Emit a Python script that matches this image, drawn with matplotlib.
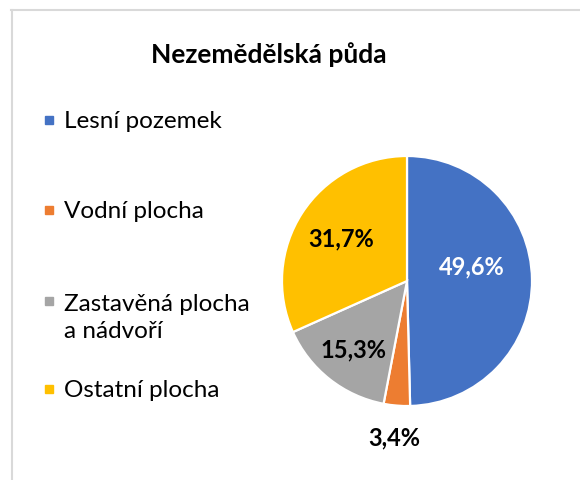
import numpy as np
import matplotlib
matplotlib.use("Agg")
import matplotlib.pyplot as plt
from matplotlib.lines import Line2D
from matplotlib.patches import Rectangle

title = "Nezemědělská půda"
categories = ["Lesní pozemek", "Vodní plocha", "Zastavěná plocha\na nádvoří", "Ostatní plocha"]
shares = [49.6, 3.4, 15.3, 31.7]
colors = ["#4472C4", "#ED7D31", "#A5A5A5", "#FFC000"]
label_colors = ["white", "black", "black", "black"]
label_dist = [0.52, 1.25, 0.69, 0.63]
label_shift = [(0, 14), (0, 0), (0, 0), (0, 0)]  # pixel nudges

plt.rcParams["font.family"] = ["Lato", "DejaVu Sans"]

W, H = 580, 481
fig = plt.figure(figsize=(W / 100, H / 100), dpi=100)

# chart-area border (only top and left visible in the crop)
fig.add_artist(Line2D([11 / W, 1], [1 - 11 / H] * 2, color="#d9d9d9", lw=1.5))
fig.add_artist(Line2D([11.5 / W] * 2, [0, 1 - 11 / H], color="#d9d9d9", lw=1.5))

fig.text(269 / W, 1 - 55 / H, title, ha="center", va="center",
         fontsize=19, fontweight="bold")

# pie
cx, cy, r = 407, 282, 125
ax = fig.add_axes([(cx - r) / W, 1 - (cy + r) / H, 2 * r / W, 2 * r / H])
wedges, _ = ax.pie(shares, colors=colors, startangle=90, counterclock=False,
                   wedgeprops=dict(edgecolor="white", linewidth=1.6))
ax.set_xlim(-1, 1)
ax.set_ylim(-1, 1)
ax.set_aspect("equal")

for w, v, d, c, (dx, dy) in zip(wedges, shares, label_dist, label_colors, label_shift):
    ang = np.deg2rad((w.theta1 + w.theta2) / 2)
    ax.annotate(f"{v:.1f}%".replace(".", ","), (d * np.cos(ang), d * np.sin(ang)),
                xytext=(dx * 0.72, dy * 0.72), textcoords="offset points",
                ha="center", va="center", fontsize=17, fontweight="bold", color=c,
                annotation_clip=False)

# legend drawn by hand so the marker sits on the first line
legend_base = [128, 218, 309, 397]
line_step = 29
for cat, col, y in zip(categories, colors, legend_base):
    fig.add_artist(Rectangle((45 / W, 1 - (y - 3) / H), 8 / W, 8 / H,
                             color=col, transform=fig.transFigure))
    last = y + line_step * cat.count("\n")  # baseline alignment uses the last line
    fig.text(64 / W, 1 - last / H, cat, ha="left", va="baseline",
             fontsize=17.5, linespacing=1.35)

fig.savefig("out.png", dpi=100)
